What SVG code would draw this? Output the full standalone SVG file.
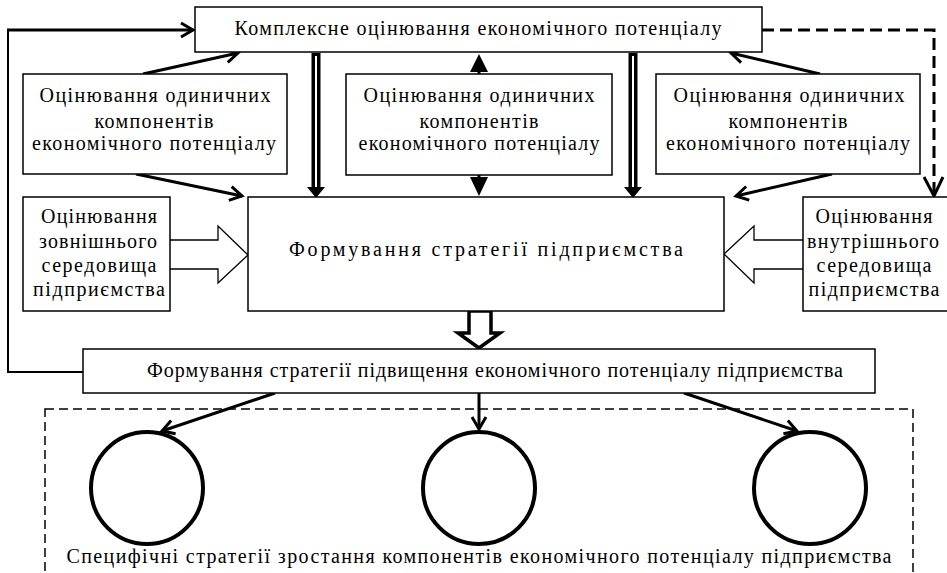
<svg xmlns="http://www.w3.org/2000/svg" width="947" height="573" viewBox="0 0 947 573">
<style>
.box{fill:#fff;stroke:#000;stroke-width:1.5}
.t{font-family:"Liberation Serif","Times New Roman",serif;font-size:20px;fill:#000;text-anchor:middle}
.c{fill:none;stroke:#000;stroke-width:3}
.circ{fill:#fff;stroke:#000;stroke-width:4}
</style>
<defs>
<marker id="open" markerUnits="userSpaceOnUse" markerWidth="20" markerHeight="20" refX="14" refY="8" orient="auto" viewBox="0 0 20 16">
<path d="M2,1 L14,8 L2,15" fill="none" stroke="#000" stroke-width="3"/>
</marker>
</defs>
<rect width="947" height="573" fill="#fff"/>

<g id="connectors">
<path d="M83,372 H8 V30" fill="none" stroke="#000" stroke-width="2"/>
<path d="M7,30 H193" class="c" stroke-width="3.5" marker-end="url(#open)"/>
<path d="M762,30 H934 V194" fill="none" stroke="#000" stroke-width="3" stroke-dasharray="12,6"/>
<path d="M924,177 L934,196 L943,177" fill="none" stroke="#000" stroke-width="3"/>
<path d="M143,74 L238,53" class="c" marker-end="url(#open)"/>
<path d="M136,174 L242,196" class="c" marker-end="url(#open)"/>
<path d="M820,74 L731,53" class="c" marker-end="url(#open)"/>
<path d="M832,174 L736,196" class="c" marker-end="url(#open)"/>
<path d="M316,53 V190" stroke="#000" stroke-width="9" fill="none"/>
<path d="M316,56 V192" stroke="#fff" stroke-width="2" fill="none"/>
<path d="M307,187 L325,187 L316,198 Z" fill="#000"/>
<path d="M633,53 V190" stroke="#000" stroke-width="9" fill="none"/>
<path d="M633,56 V192" stroke="#fff" stroke-width="2" fill="none"/>
<path d="M624,187 L642,187 L633,198 Z" fill="#000"/>
<path d="M479,60 V74" stroke="#000" stroke-width="3"/>
<path d="M470,72 L488,72 L479,54 Z" fill="#000"/>
<path d="M479,175 V190" stroke="#000" stroke-width="3"/>
<path d="M470,177 L488,177 L479,196 Z" fill="#000"/>
<polyline points="170,240 218,240 218,226 248,255 218,283 218,269 170,269" fill="#fff" stroke="#000" stroke-width="1.3"/>
<polyline points="803,240 754,240 754,226 724,254 754,283 754,269 803,269" fill="#fff" stroke="#000" stroke-width="1.3"/>
<polygon points="469,311 491,311 491,333 500,333 479,348 458,333 469,333" fill="#fff" stroke="#000" stroke-width="3.5" stroke-linejoin="miter"/>
<path d="M275,393 L162,431" class="c" marker-end="url(#open)"/>
<path d="M479,393 L479,429" class="c" marker-end="url(#open)"/>
<path d="M684,393 L797,431" class="c" marker-end="url(#open)"/>
</g>

<g id="top">
<rect class="box" x="195" y="7" width="567" height="45"/>
<text class="t" x="478" y="35" textLength="487">Комплексне оцінювання економічного потенціалу</text>
</g>

<g id="single-left">
<rect class="box" x="23" y="74" width="264" height="100"/>
<text class="t" x="155" y="102" textLength="231">Оцінювання одиничних</text>
<text class="t" x="154" y="128" textLength="119">компонентів</text>
<text class="t" x="154" y="150" textLength="244">економічного потенціалу</text>
</g>

<g id="single-mid">
<rect class="box" x="346" y="74" width="266" height="101"/>
<text class="t" x="479" y="102" textLength="231">Оцінювання одиничних</text>
<text class="t" x="479" y="128" textLength="119">компонентів</text>
<text class="t" x="479" y="150" textLength="241">економічного потенціалу</text>
</g>

<g id="single-right">
<rect class="box" x="656" y="74" width="264" height="100"/>
<text class="t" x="789" y="102" textLength="231">Оцінювання одиничних</text>
<text class="t" x="788" y="128" textLength="119">компонентів</text>
<text class="t" x="788" y="150" textLength="244">економічного потенціалу</text>
</g>

<g id="external">
<rect class="box" x="23" y="197" width="147" height="114"/>
<text class="t" x="99" y="223" textLength="116">Оцінювання</text>
<text class="t" x="98" y="248" textLength="118">зовнішнього</text>
<text class="t" x="99" y="272" textLength="115">середовища</text>
<text class="t" x="99" y="296" textLength="132">підприємства</text>
</g>

<g id="strategy">
<rect class="box" x="248" y="197" width="476" height="114"/>
<text class="t" x="486" y="256" font-size="22" textLength="394">Формування стратегії підприємства</text>
</g>

<g id="internal">
<rect class="box" x="803" y="197" width="150" height="114"/>
<text class="t" x="874" y="223" textLength="117">Оцінювання</text>
<text class="t" x="873" y="248" textLength="132">внутрішнього</text>
<text class="t" x="874" y="272" textLength="115">середовища</text>
<text class="t" x="874" y="296" textLength="131">підприємства</text>
</g>

<g id="improve">
<rect class="box" x="83" y="349" width="792" height="44"/>
<text class="t" x="495" y="377" textLength="696">Формування стратегії підвищення економічного потенціалу підприємства</text>
</g>

<g id="specific">
<rect x="45" y="409" width="868" height="200" fill="none" stroke="#000" stroke-width="1.5" stroke-dasharray="9,5"/>
<circle class="circ" cx="147" cy="488" r="56"/>
<circle class="circ" cx="479" cy="488" r="56"/>
<circle class="circ" cx="810" cy="488" r="56"/>
<text class="t" x="479" y="563" textLength="825">Специфічні стратегії зростання компонентів економічного потенціалу підприємства</text>
</g>
</svg>
